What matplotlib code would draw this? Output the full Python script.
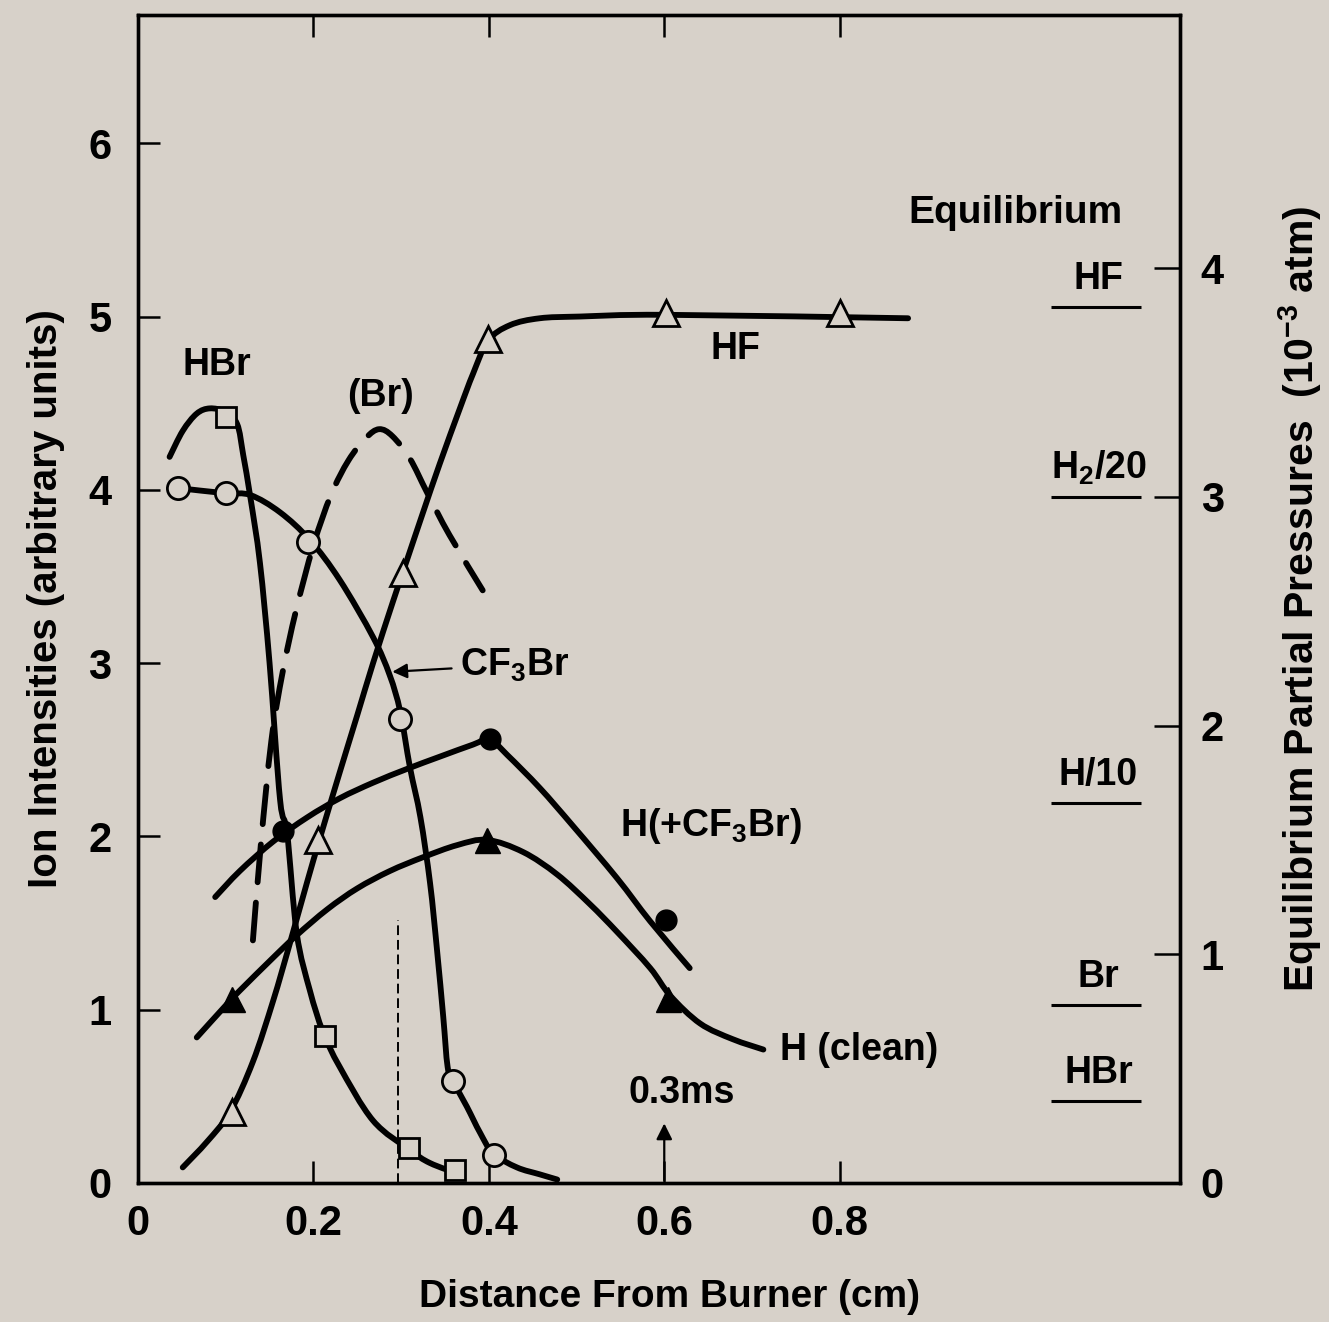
import numpy as np
import matplotlib
matplotlib.use("Agg")
import matplotlib.pyplot as plt
from matplotlib.path import Path
from matplotlib.patches import PathPatch

plt.rcParams['font.family'] = ['Liberation Sans', 'DejaVu Sans']
plt.rcParams['font.weight'] = 'bold'
plt.rcParams['axes.labelweight'] = 'bold'
plt.rcParams['mathtext.fontset'] = 'custom'
plt.rcParams['mathtext.rm'] = 'Liberation Sans:bold'
plt.rcParams['mathtext.it'] = 'Liberation Sans:bold'
plt.rcParams['mathtext.bf'] = 'Liberation Sans:bold'
plt.rcParams['mathtext.default'] = 'rm'

bg = '#d7d1c9'

# traced curves (distance cm, ion intensity)
hbr_x = [0.036, 0.051, 0.067, 0.082, 0.099, 0.113, 0.120, 0.128, 0.139, 0.150, 0.162, 0.170,
         0.181, 0.196, 0.211, 0.230, 0.268, 0.310, 0.333, 0.367]
hbr_y = [4.19, 4.34, 4.44, 4.47, 4.45, 4.38, 4.20, 3.96, 3.58, 3.00, 2.21, 2.02,
         1.44, 1.11, 0.87, 0.67, 0.36, 0.19, 0.115, 0.05]
hbr_pts_x = [0.100, 0.213, 0.309, 0.361]
hbr_pts_y = [4.42, 0.85, 0.20, 0.075]

br_x = [0.131, 0.140, 0.152, 0.165, 0.180, 0.200, 0.220, 0.240, 0.260, 0.275, 0.290,
        0.310, 0.330, 0.355, 0.393]
br_y = [1.40, 1.95, 2.55, 2.95, 3.30, 3.68, 3.97, 4.17, 4.30, 4.35, 4.31,
        4.18, 3.98, 3.74, 3.42]

cf3br_x = [0.046, 0.100, 0.128, 0.162, 0.196, 0.230, 0.268, 0.287, 0.299, 0.310, 0.322,
           0.333, 0.341, 0.348, 0.353, 0.359, 0.375, 0.390, 0.405, 0.432, 0.458, 0.478]
cf3br_y = [4.01, 3.98, 3.97, 3.87, 3.71, 3.48, 3.15, 2.93, 2.72, 2.40, 2.11,
           1.73, 1.34, 0.96, 0.67, 0.59, 0.44, 0.29, 0.17, 0.09, 0.05, 0.02]
cf3br_pts_x = [0.046, 0.100, 0.194, 0.299, 0.359, 0.406]
cf3br_pts_y = [4.01, 3.98, 3.70, 2.68, 0.59, 0.16]

hf_x = [0.051, 0.079, 0.105, 0.131, 0.154, 0.173, 0.193, 0.208, 0.230, 0.250, 0.268,
        0.291, 0.307, 0.325, 0.344, 0.367, 0.382, 0.399, 0.424, 0.458, 0.504, 0.602, 0.878]
hf_y = [0.09, 0.24, 0.41, 0.70, 1.05, 1.38, 1.74, 2.00, 2.37, 2.70, 3.00,
        3.36, 3.60, 3.87, 4.15, 4.47, 4.67, 4.86, 4.95, 4.99, 5.00, 5.01, 4.99]
hf_pts_x = [0.107, 0.205, 0.302, 0.399, 0.602, 0.800]
hf_pts_y = [0.41, 1.98, 3.52, 4.87, 5.02, 5.02]

hcf_x = [0.088, 0.116, 0.154, 0.193, 0.230, 0.268, 0.307, 0.344, 0.382, 0.401, 0.421,
         0.458, 0.496, 0.546, 0.584, 0.629]
hcf_y = [1.65, 1.80, 1.97, 2.11, 2.22, 2.31, 2.39, 2.46, 2.53, 2.56, 2.47,
         2.28, 2.06, 1.76, 1.51, 1.24]
hcf_pts_x = [0.165, 0.401, 0.602]
hcf_pts_y = [2.03, 2.56, 1.52]

hcl_x = [0.067, 0.101, 0.116, 0.154, 0.181, 0.216, 0.250, 0.287, 0.325, 0.364, 0.398,
         0.439, 0.478, 0.515, 0.546, 0.584, 0.607, 0.641, 0.678, 0.713]
hcl_y = [0.84, 1.03, 1.11, 1.30, 1.43, 1.58, 1.70, 1.80, 1.88, 1.95, 1.98,
         1.91, 1.78, 1.61, 1.45, 1.24, 1.08, 0.92, 0.83, 0.77]
hcl_pts_x = [0.107, 0.398, 0.604]
hcl_pts_y = [1.06, 1.98, 1.06]

# equilibrium partial pressures (10^-3 atm)
eq_names = ['HF', 'H$_2$/20', 'H/10', 'Br', 'HBr']
eq_vals = [3.83, 3.00, 1.66, 0.78, 0.36]


# smooth bezier path through the traced points (catmull-rom control points)
def smooth_path(xs, ys):
    p = np.column_stack([xs, ys])
    n = len(p)
    verts = [p[0]]
    codes = [Path.MOVETO]
    for i in range(n - 1):
        p0 = p[max(i - 1, 0)]
        p1 = p[i]
        p2 = p[i + 1]
        p3 = p[min(i + 2, n - 1)]
        verts += [p1 + (p2 - p0) / 6, p2 - (p3 - p1) / 6, p2]
        codes += [Path.CURVE4] * 3
    return Path(verts, codes)


def curve(ax, xs, ys, lw=4.2, ls='-'):
    ax.add_patch(PathPatch(smooth_path(xs, ys), fill=False, ec='k', lw=lw, ls=ls,
                           capstyle='round', joinstyle='round'))


fig = plt.figure(figsize=(13.29, 13.22), dpi=100, facecolor=bg)
ax = fig.add_axes([138/1329, 1-1183/1322, (1180-138)/1329, (1183-15)/1322])
ax.set_facecolor(bg)
ax.set_xlim(0, 1.188)
ax.set_ylim(0, 6.74)

curve(ax, hbr_x, hbr_y)
curve(ax, br_x, br_y, ls=(0, (6.5, 3.5)))
curve(ax, cf3br_x, cf3br_y)
curve(ax, hf_x, hf_y)
curve(ax, hcf_x, hcf_y)
curve(ax, hcl_x, hcl_y)

ax.plot(hbr_pts_x, hbr_pts_y, 's', ms=15, mfc=bg, mec='k', mew=2, zorder=5)
ax.plot(cf3br_pts_x, cf3br_pts_y, 'o', ms=16, mfc=bg, mec='k', mew=2, zorder=5)
ax.plot(hf_pts_x, hf_pts_y, '^', ms=19, mfc=bg, mec='k', mew=2, zorder=5)
ax.plot(hcf_pts_x, hcf_pts_y, 'o', ms=15, mfc='k', mec='k', zorder=5)
ax.plot(hcl_pts_x, hcl_pts_y, '^', ms=18, mfc='k', mec='k', zorder=5)

# residence time markers
ax.plot([0.296, 0.296], [0, 1.52], color='k', lw=1.4, ls=(0, (5, 2.5)))
ax.annotate('', xy=(0.6, 0.36), xytext=(0.6, 0.0),
            arrowprops=dict(arrowstyle='-|>', color='k', lw=1.6, mutation_scale=24))
ax.text(0.620, 0.52, '0.3ms', ha='center', va='center', fontsize=27)

fs = 27
ax.text(0.090, 4.72, 'HBr', ha='center', va='center', fontsize=fs)
ax.text(0.277, 4.54, '(Br)', ha='center', va='center', fontsize=fs)
ax.text(0.681, 4.81, 'HF', ha='center', va='center', fontsize=fs)
ax.annotate('CF$_3$Br', xy=(0.290, 2.95), xytext=(0.367, 2.99), ha='left', va='center',
            fontsize=fs, arrowprops=dict(arrowstyle='-|>', color='k', lw=1.6,
                                         mutation_scale=22, shrinkA=4, shrinkB=0))
ax.text(0.550, 2.06, 'H(+CF$_3$Br)', ha='left', va='center', fontsize=fs)
ax.text(0.732, 0.77, 'H (clean)', ha='left', va='center', fontsize=fs)
ax.text(1.0, 5.60, 'Equilibrium', ha='center', va='center', fontsize=28)

ax.set_xticks([0, 0.2, 0.4, 0.6, 0.8])
ax.set_xticklabels(['0', '0.2', '0.4', '0.6', '0.8'])
ax.set_yticks([0, 1, 2, 3, 4, 5, 6])
ax.tick_params(axis='x', direction='in', length=16, width=1.8, labelsize=30, pad=15, top=True)
ax.tick_params(axis='y', direction='in', length=16, width=1.8, labelsize=30, pad=19)
for s in ax.spines.values():
    s.set_linewidth(2.4)

ax.set_xlabel('Distance From Burner (cm)', fontsize=28, fontweight='bold')
ax.xaxis.set_label_coords(0.51, -0.098)
ax.xaxis.label.set_va('center')
ax.set_ylabel('Ion Intensities (arbitrary units)', fontsize=29, fontweight='bold')
ax.yaxis.set_label_coords(-0.088, 0.5)
ax.yaxis.label.set_va('center')

ax2 = ax.twinx()
ax2.set_ylim(0, 6.74 * 173.3 / 228.75)
ax2.set_yticks([0, 1, 2, 3, 4])
ax2.tick_params(axis='y', direction='in', length=19, width=1.8, labelsize=30, pad=15)
for s in ax2.spines.values():
    s.set_linewidth(2.4)
ax2.hlines(eq_vals, 1.041, 1.143, color='k', lw=2.2)
for name, v in zip(eq_names, eq_vals):
    ax2.annotate(name, xy=(1.095, v), xytext=(0, 13), textcoords='offset points',
                 ha='center', va='baseline', fontsize=fs)
ax2.set_ylabel('Equilibrium Partial Pressures  (10$^{-3}$ atm)', fontsize=29.5,
               fontweight='bold', rotation=90)
ax2.yaxis.set_label_coords(1.115, 0.5)
ax2.yaxis.label.set_va('center')

fig.savefig('out.png', dpi=100, facecolor=bg)
